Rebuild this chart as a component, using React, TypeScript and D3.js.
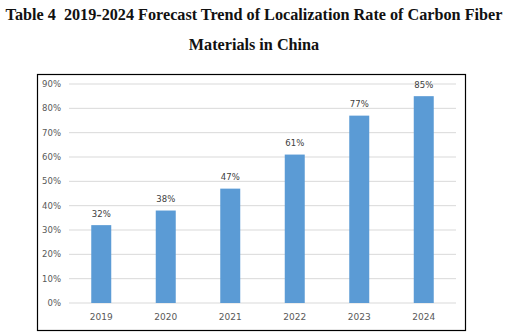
import React from "react";
import * as d3 from "d3";

const years = ["2019", "2020", "2021", "2022", "2023", "2024"];
const rates = [32, 38, 47, 61, 77, 85];
const yTicks = [0, 10, 20, 30, 40, 50, 60, 70, 80, 90];
const titleLines = [
  "Table 4  2019-2024 Forecast Trend of Localization Rate of Carbon Fiber",
  "Materials in China",
];

export default function App() {
  const W = 511, H = 336;
  const x = d3.scaleBand<string>().domain(years).range([69, 456]).paddingInner(0.69).paddingOuter(0.345);
  const y = d3.scaleLinear().domain([0, 90]).range([303, 84]);
  const labelFont = "'DejaVu Sans', sans-serif";
  return (
    <svg width={W} height={H} style={{ position: "absolute", left: 0, top: 0 }}>
      <rect x={0} y={0} width={W} height={H} fill="#fff" />
      {titleLines.map((t, i) => (
        <text key={i} x={254} y={19.5 + i * 30.5} textAnchor="middle" style={{ whiteSpace: "pre" }}
          fontFamily="'Liberation Serif', 'Times New Roman', serif" fontWeight="bold" fontSize={16.2} fill="#111">
          {t}
        </text>
      ))}
      <rect x={37.5} y={74.5} width={428} height={256} fill="none" stroke="#000" strokeWidth={1.2} />
      {yTicks.map((t) => (
        <g key={t}>
          <line x1={69} x2={456} y1={y(t)} y2={y(t)} stroke="#d9d9d9" strokeWidth={1} />
          <text x={61} y={y(t)} dy="0.35em" textAnchor="end" fontFamily={labelFont} fontSize={8.5} fill="#595959">
            {t}%
          </text>
        </g>
      ))}
      {years.map((yr, i) => (
        <g key={yr}>
          <rect x={x(yr)} y={y(rates[i])} width={x.bandwidth()} height={y(0) - y(rates[i])} fill="#5b9bd5" />
          <text x={(x(yr) as number) + x.bandwidth() / 2} y={y(rates[i]) - 8.5} textAnchor="middle"
            fontFamily={labelFont} fontSize={8.5} fill="#404040">
            {rates[i]}%
          </text>
          <text x={(x(yr) as number) + x.bandwidth() / 2} y={317} dy="0.35em" textAnchor="middle"
            fontFamily={labelFont} fontSize={9} fill="#595959">
            {yr}
          </text>
        </g>
      ))}
    </svg>
  );
}
